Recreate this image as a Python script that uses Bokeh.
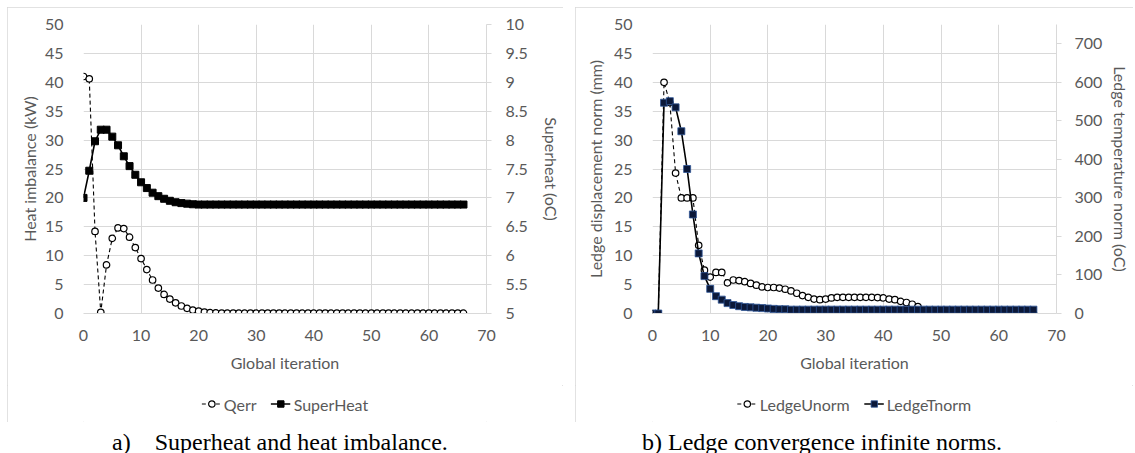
from bokeh.plotting import figure
from bokeh.models import Range1d, LinearAxis, FixedTicker, Legend, LegendItem, Div, Spacer
from bokeh.layouts import row, column
from bokeh.embed import file_html
from bokeh.resources import INLINE

# ---------------- data ----------------
iterations = list(range(67))

qerr = [41.0, 40.6, 14.2, 0.2, 8.4, 13.0, 14.8, 14.7, 13.2, 11.4,
        9.5, 7.6, 5.8, 4.4, 3.3, 2.5, 1.85, 1.3, 0.9, 0.6,
        0.4, 0.25, 0.15, 0.1, 0.08, 0.06, 0.05, 0.05, 0.05, 0.05,
        0.05, 0.05, 0.05, 0.05, 0.05, 0.05, 0.05, 0.05, 0.05, 0.05,
        0.05, 0.05, 0.05, 0.05, 0.05, 0.05, 0.05, 0.05, 0.05, 0.05,
        0.05, 0.05, 0.05, 0.05, 0.05, 0.05, 0.05, 0.05, 0.05, 0.05,
        0.05, 0.05, 0.05, 0.05, 0.05, 0.05, 0.05]

superheat = [7.0, 7.47, 7.98, 8.18, 8.18, 8.06, 7.91, 7.72, 7.55, 7.40,
             7.27, 7.17, 7.09, 7.03, 6.985, 6.95, 6.925, 6.91, 6.90, 6.89,
             6.885, 6.885, 6.885, 6.885, 6.885, 6.885, 6.885, 6.885, 6.885, 6.885,
             6.885, 6.885, 6.885, 6.885, 6.885, 6.885, 6.885, 6.885, 6.885, 6.885,
             6.885, 6.885, 6.885, 6.885, 6.885, 6.885, 6.885, 6.885, 6.885, 6.885,
             6.885, 6.885, 6.885, 6.885, 6.885, 6.885, 6.885, 6.885, 6.885, 6.885,
             6.885, 6.885, 6.885, 6.885, 6.885, 6.885, 6.885]

ledge_unorm = [0, 0, 40.0, 36.5, 24.3, 20.0, 20.0, 20.0, 11.8, 7.5,
               6.3, 7.1, 7.1, 5.3, 5.8, 5.7, 5.5, 5.2, 4.9, 4.6,
               4.5, 4.5, 4.4, 4.2, 3.9, 3.5, 3.1, 2.8, 2.5, 2.4,
               2.5, 2.7, 2.8, 2.8, 2.8, 2.8, 2.8, 2.8, 2.8, 2.75,
               2.7, 2.5, 2.4, 2.1, 1.9, 1.6, 1.2, 0.1, 0.1, 0.1,
               0.1, 0.1, 0.1, 0.1, 0.1, 0.1, 0.1, 0.1, 0.1, 0.1,
               0.1, 0.1, 0.1, 0.1, 0.1, 0.1, 0.1]

ledge_tnorm = [0, 0, 547, 551, 535, 473, 375, 257, 156, 97,
               64, 45, 36, 27, 22, 19, 17, 16, 15, 14,
               13, 12, 11, 11, 10, 10, 10, 10, 10, 10,
               10, 10, 10, 10, 10, 10, 10, 10, 10, 10,
               10, 10, 10, 10, 10, 10, 10, 10, 10, 10,
               10, 10, 10, 10, 10, 10, 10, 10, 10, 10,
               10, 10, 10, 10, 10, 10, 10]

x_ticks = [0, 10, 20, 30, 40, 50, 60, 70]
y_ticks = [0, 5, 10, 15, 20, 25, 30, 35, 40, 45, 50]
sh_ticks = [5, 5.5, 6, 6.5, 7, 7.5, 8, 8.5, 9, 9.5, 10]
sh_labels = ["5", "5.5", "6", "6.5", "7", "7.5", "8", "8.5", "9", "9.5", "10"]
lt_ticks = [0, 100, 200, 300, 400, 500, 600, 700]

FONT = "Lato"
GREY = "#595959"
GRID = "#d9d9d9"
OUTLINE = {"outline": "1px solid #d9d9d9", "outline-offset": "-1px"}


def style_axis(ax):
    ax.major_label_text_font = FONT
    ax.major_label_text_font_size = "16px"
    ax.major_label_text_color = GREY
    ax.axis_label_text_font = FONT
    ax.axis_label_text_font_size = "16px"
    ax.axis_label_text_color = GREY
    ax.axis_label_text_font_style = "normal"
    ax.minor_tick_line_color = None
    ax.major_tick_in = 0


def make_panel(width, b_left, b_right, y_label, r_label, r_range, r_ticker, r_overrides,
               r_standoff, r_title_standoff, l_title_standoff):
    p = figure(width=width, height=378, x_range=Range1d(0, 70), y_range=Range1d(0, 50),
               output_backend="svg", toolbar_location=None,
               min_border_left=b_left, min_border_right=b_right,
               min_border_top=17, min_border_bottom=72)
    p.outline_line_color = None
    p.background_fill_color = "white"
    p.border_fill_color = "white"
    p.extra_y_ranges = {"r": r_range}

    p.xaxis.ticker = FixedTicker(ticks=x_ticks)
    p.yaxis.ticker = FixedTicker(ticks=y_ticks)
    p.xgrid.ticker = FixedTicker(ticks=x_ticks)
    p.ygrid.ticker = FixedTicker(ticks=y_ticks)
    p.xgrid.grid_line_color = GRID
    p.ygrid.grid_line_color = GRID

    xa = p.xaxis[0]
    style_axis(xa)
    xa.axis_label = "Global iteration"
    xa.axis_line_color = GRID
    xa.major_tick_line_color = None
    xa.major_tick_out = 0
    xa.major_label_standoff = 16
    xa.axis_label_standoff = 9

    ya = p.yaxis[0]
    style_axis(ya)
    ya.axis_label = y_label
    ya.axis_line_color = None
    ya.major_tick_line_color = None
    ya.major_tick_out = 0
    ya.major_label_standoff = 20
    ya.axis_label_standoff = l_title_standoff

    ra = LinearAxis(y_range_name="r", ticker=FixedTicker(ticks=r_ticker), axis_label=r_label)
    style_axis(ra)
    ra.axis_line_color = GRID
    ra.major_tick_line_color = GRID
    ra.major_tick_out = 5
    ra.major_label_standoff = r_standoff
    ra.axis_label_standoff = r_title_standoff
    if r_overrides:
        ra.major_label_overrides = r_overrides
    p.add_layout(ra, "right")
    return p


def add_series(p, ys, st, y_range_name="default"):
    ln = p.line(iterations, ys, line_color="black", line_width=st["lw"], line_dash=st["dash"],
                y_range_name=y_range_name)
    sc = p.scatter(iterations, ys, marker=st["marker"], size=st["size"], fill_color=st["fill"],
                   line_color=st["edge"], line_width=st["elw"], y_range_name=y_range_name)
    return ln, sc


def legend_strip(width, labels, series, styles):
    """Strip under the chart carrying the legend; its ranges keep the series out of view."""
    f = figure(width=width, height=37, x_range=Range1d(-30, -20), y_range=Range1d(-30, -20),
               output_backend="svg", toolbar_location=None, min_border=0)
    f.axis.visible = False
    f.grid.visible = False
    f.outline_line_color = None
    f.border_fill_color = "white"
    f.background_fill_color = "white"
    items = []
    for lab, ys, st in zip(labels, series, styles):
        ln, sc = add_series(f, ys, st)
        items.append(LegendItem(label=lab, renderers=[ln, sc]))
    leg = Legend(items=items, orientation="horizontal", location="center")
    leg.label_text_font = FONT
    leg.label_text_font_size = "16px"
    leg.label_text_color = GREY
    leg.border_line_color = None
    leg.background_fill_alpha = 0
    leg.glyph_width = 20
    leg.glyph_height = 16
    leg.label_height = 16
    leg.label_standoff = 3
    leg.spacing = 14
    leg.padding = 0
    leg.margin = 0
    f.add_layout(leg)
    return f


CIRC = dict(lw=1.1, dash="4 3", marker="circle", size=6.5, fill="white", edge="black", elw=1.2)
SQ = dict(lw=1.6, dash="solid", marker="square", size=7, fill="black", edge="black", elw=1.0)
SQB = dict(lw=1.6, dash="solid", marker="square", size=7, fill="#0b1838", edge="#2f5597", elw=0.8)

# ---------------- panel a ----------------
p1 = make_panel(556, 76, 69, "Heat imbalance (kW)", "Superheat (oC)", Range1d(5, 10),
                sh_ticks, {t: l for t, l in zip(sh_ticks, sh_labels)}, 14, 11, 3)
add_series(p1, qerr, CIRC)
add_series(p1, superheat, SQ, "r")
lg1 = legend_strip(556, ["Qerr", "SuperHeat"], [qerr, superheat], [CIRC, SQ])

# ---------------- panel b ----------------
p2 = make_panel(558, 77, 74, "Ledge displacement norm (mm)", "Ledge temperature norm (oC)",
                Range1d(0, 750), lt_ticks, None, 13, 6, 6)
add_series(p2, ledge_unorm, CIRC)
add_series(p2, ledge_tnorm, SQB, "r")
lg2 = legend_strip(558, ["LedgeUnorm", "LedgeTnorm"], [ledge_unorm, ledge_tnorm], [CIRC, SQB])

panel_a = column(p1, lg1, spacing=0, styles=OUTLINE)
panel_b = column(p2, lg2, spacing=0, styles=OUTLINE)

# ---------------- captions ----------------
cap_style = ("display:block;position:relative;top:3px;font-family:'Liberation Serif';"
             "font-size:24px;line-height:24px;white-space:nowrap;color:black;")
d1 = Div(text=f'<span style="{cap_style}padding-left:100px;">a)&nbsp;&nbsp;&nbsp;&nbsp;Superheat and heat imbalance.</span>',
         width=556, height=26)
d2 = Div(text=f'<span style="{cap_style}padding-left:52px;">b) Ledge convergence infinite norms.</span>',
         width=558, height=26)

layout = column(Spacer(height=7),
                row(Spacer(width=7), panel_a, Spacer(width=12), panel_b),
                row(Spacer(width=7), d1, Spacer(width=12), d2))

open("out.html", "w").write(file_html(layout, INLINE))
